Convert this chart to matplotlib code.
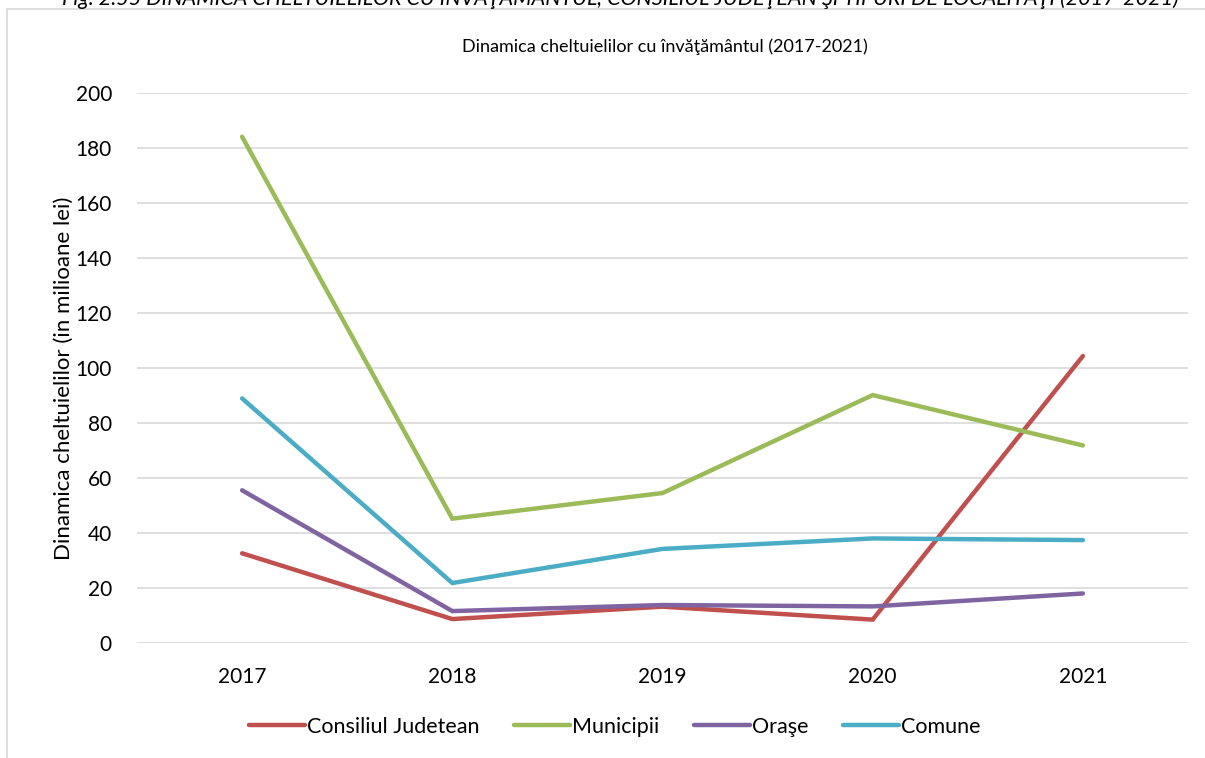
import matplotlib.pyplot as plt
from matplotlib.patches import Rectangle

plt.rcParams['font.family'] = ['Lato', 'DejaVu Sans']

years = ["2017", "2018", "2019", "2020", "2021"]
consiliul_judetean = [32.6, 8.7, 13.2, 8.5, 104.3]
municipii = [184.0, 45.2, 54.5, 90.1, 71.8]
orase = [55.5, 11.6, 13.8, 13.3, 18.0]
comune = [88.9, 21.8, 34.2, 38.0, 37.4]

series = [
    ("Consiliul Judetean", consiliul_judetean, "#C0504D"),
    ("Municipii", municipii, "#9BBB59"),
    ("Oraşe", orase, "#8064A2"),
    ("Comune", comune, "#4BACC6"),
]

W, H = 1205, 758
fig = plt.figure(figsize=(W / 100, H / 100), dpi=100)

# light frame of the chart area (only left and top edges visible)
fig.patches.append(Rectangle((7 / W, -0.1), 1.2, 1 - 9 / H + 0.1,
                             transform=fig.transFigure, fill=False,
                             edgecolor="#D9D9D9", lw=1.2))

# cropped caption at the very top
fig.text(620 / W, 1 + 3 / H, "Fig. 2.55 DINAMICA CHELTUIELILOR CU ÎNVĂŢĂMÂNTUL, "
         "CONSILIUL JUDEŢEAN ŞI TIPURI DE LOCALITĂŢI (2017-2021)",
         ha="center", va="center", fontsize=15.5, style="italic")

ax = fig.add_axes([137 / W, 1 - 643 / H, (1188 - 137) / W, (643 - 92.7) / H])
x = list(range(len(years)))
for name, vals, col in series:
    ax.plot(x, vals, color=col, lw=3.2, label=name,
            solid_capstyle="round", solid_joinstyle="miter")

ax.set_xlim(-0.5, len(years) - 0.5)
ax.set_ylim(0, 200)
ax.set_yticks(range(0, 201, 20))
ax.set_xticks(x)
ax.set_xticklabels(years)
ax.grid(axis="y", color="#D9D9D9", lw=1.2)
ax.set_axisbelow(True)
for s in ax.spines.values():
    s.set_visible(False)
ax.tick_params(length=0, labelsize=15)
ax.tick_params(axis="x", pad=17)
ax.tick_params(axis="y", pad=18)

fig.text(64 / W, 1 - 378 / H, "Dinamica cheltuielilor (in milioane lei)",
         rotation=90, ha="center", va="center", fontsize=16)
fig.text(665 / W, 1 - 47 / H, "Dinamica cheltuielilor cu învăţământul (2017-2021)",
         ha="center", va="center", fontsize=13)

fig.legend(loc="center", bbox_to_anchor=(615 / W, 1 - 727 / H), ncol=4,
           frameon=False, fontsize=15.5, handlelength=2.6, handletextpad=0.1,
           columnspacing=1.6)

fig.savefig("out.png", dpi=100)
